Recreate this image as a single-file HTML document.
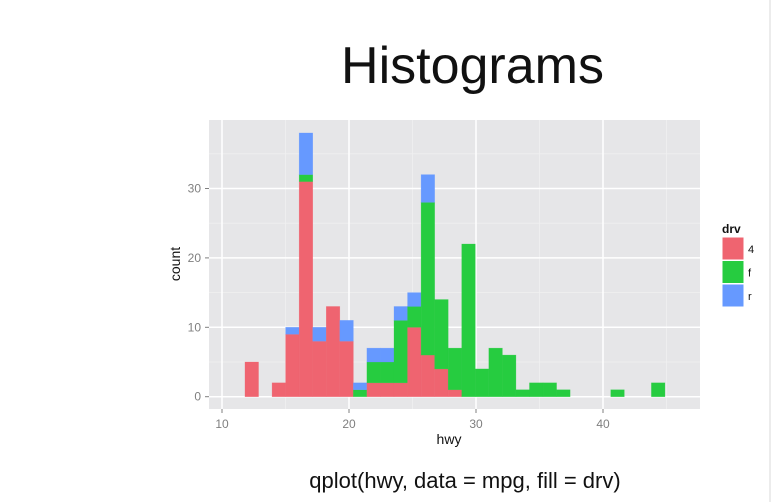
<!DOCTYPE html>
<html><head><meta charset="utf-8">
<style>
html,body{margin:0;padding:0;background:#fff;}
body{width:773px;height:502px;overflow:hidden;position:relative;font-family:"Liberation Sans",sans-serif;}
#title{position:absolute;left:0;width:945px;top:36px;text-align:center;font-size:52px;color:#111;}
#caption{position:absolute;left:0;width:930px;top:468px;text-align:center;font-size:22px;color:#111;}
</style></head><body>
<div id="title">Histograms</div>
<svg id="chart" width="773" height="502" style="position:absolute;left:0;top:0"></svg>
<div id="caption">qplot(hwy, data = mpg, fill = drv)</div>
<script>
const binStart = 11.81;
const binWidth = 1.0667;
const red4   = [5,0,2,9,31,8,13,8,0,2,2,2,10,6,4,1,0,0,0,0,0,0,0,0,0,0,0,0,0,0,0];
const greenF = [0,0,0,0,1,0,0,0,1,3,3,9,3,22,10,6,22,4,7,6,1,2,2,1,0,0,0,1,0,0,2];
const blueR  = [0,0,0,1,6,2,0,3,1,2,2,2,2,4,0,0,0,0,0,0,0,0,0,0,0,0,0,0,0,0,0];
const xTicks = [10,20,30,40];
const yTicks = [0,10,20,30];
const legendKeys = ["4","f","r"];

const NS="http://www.w3.org/2000/svg";
const svg=document.getElementById('chart');
const P={l:209,r:700,t:120,b:409};
const xs=v=>222+(v-10)*12.7;
const ys=v=>396.7-v*6.94;
function mk(tag,attrs,parent){const e=document.createElementNS(NS,tag);for(const k in attrs)e.setAttribute(k,attrs[k]);(parent||svg).appendChild(e);return e;}

const panel=mk('rect',{x:P.l,y:P.t,width:P.r-P.l,height:P.b-P.t,fill:'#e6e6e8'});


[15,25,35,45].forEach(v=>{const l=mk('line',{x1:xs(v),x2:xs(v),y1:P.t,y2:P.b,stroke:'#f0f0f0','stroke-width':0.8});

});
[5,15,25,35].forEach(v=>{const l=mk('line',{x1:P.l,x2:P.r,y1:ys(v),y2:ys(v),stroke:'#f0f0f0','stroke-width':0.8});

});
xTicks.forEach(v=>{const l=mk('line',{x1:xs(v),x2:xs(v),y1:P.t,y2:P.b,stroke:'#fff','stroke-width':1.5});


const t=mk('line',{x1:xs(v),x2:xs(v),y1:P.b,y2:P.b+4,stroke:'#7f7f7f'});


const tx=mk('text',{x:xs(v),y:P.b+19,'text-anchor':'middle','font-size':12,fill:'#7f7f7f'});tx.textContent=v;

});
yTicks.forEach(v=>{const l=mk('line',{x1:P.l,x2:P.r,y1:ys(v),y2:ys(v),stroke:'#fff','stroke-width':1.5});


const t=mk('line',{x1:P.l-4,x2:P.l,y1:ys(v),y2:ys(v),stroke:'#7f7f7f'});


const tx=mk('text',{x:P.l-8,y:ys(v)+4,'text-anchor':'end','font-size':12,fill:'#7f7f7f'});tx.textContent=v;

});

const cols=['#ef6470','#26cc40','#6699ff'];
const series=[red4,greenF,blueR];
const names=['bar-drv-4','bar-drv-f','bar-drv-r'];
for(let i=0;i<red4.length;i++){
  let base=0;
  const x0=xs(binStart+i*binWidth),x1=xs(binStart+(i+1)*binWidth);
  for(let s=0;s<3;s++){
    const v=series[s][i]; if(!v)continue;
    const r=mk('rect',{x:x0,y:ys(base+v),width:x1-x0,height:ys(base)-ys(base+v),fill:cols[s],stroke:cols[s],'stroke-opacity':0.5,'stroke-width':0.5});
    
    
    base+=v;
  }
}
const xl=mk('text',{x:449,y:444,'text-anchor':'middle','font-size':14,fill:'#111'});xl.textContent='hwy';


const yl=mk('text',{x:180,y:264,'text-anchor':'middle','font-size':14,fill:'#111',transform:'rotate(-90 180 264)'});yl.textContent='count';


const lt=mk('text',{x:722,y:233,'font-size':12,'font-weight':'bold',fill:'#111'});lt.textContent='drv';


legendKeys.forEach((k,i)=>{
  const y=237+i*23.5;
  const bg=mk('rect',{x:722,y:y,width:22,height:23,fill:cols[i],stroke:'#fff','stroke-width':1});
  
  
  const t=mk('text',{x:748,y:y+16,'font-size':11,fill:'#111'});t.textContent=k;
  
  
});
const edge=mk('line',{x1:770,x2:770,y1:0,y2:502,stroke:'#d8d8d8','stroke-width':1});


</script>
</body></html>
